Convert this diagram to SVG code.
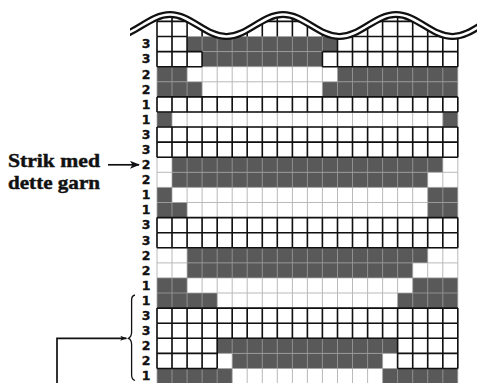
<svg xmlns="http://www.w3.org/2000/svg" xmlns:xlink="http://www.w3.org/1999/xlink" width="477" height="383" viewBox="0 0 477 383">
<style>
.dk{fill:#595959}
.gl{fill:none;stroke:#a3a3a3;stroke-width:1}
.bk{fill:none;stroke:#111;stroke-width:1.6}
.lab{font-family:"DejaVu Sans",sans-serif;font-weight:bold;font-size:12.5px;fill:#111;stroke:#111;stroke-width:0.35;text-anchor:middle}
.note{font-family:"Liberation Serif",serif;font-weight:bold;font-size:19px;fill:#111;stroke:#111;stroke-width:0.45}
.con{fill:none;stroke:#111;stroke-width:1.7}
</style>
<defs>
<path id="vrow" d="M157 0V15.1M172 0V15.1M187.1 0V15.1M202.1 0V15.1M217.2 0V15.1M232.2 0V15.1M247.2 0V15.1M262.3 0V15.1M277.3 0V15.1M292.4 0V15.1M307.4 0V15.1M322.4 0V15.1M337.5 0V15.1M352.5 0V15.1M367.6 0V15.1M382.6 0V15.1M397.6 0V15.1M412.7 0V15.1M427.7 0V15.1M442.8 0V15.1M457.8 0V15.1"/>
<path id="wavep" d="M113.5 36.5C134.1 36.5 149.4 14.5 170 14.5S205.9 36.5 226.5 36.5S262.4 14.5 283 14.5S318.9 36.5 339.5 36.5S375.4 14.5 396 14.5S431.9 36.5 452.5 36.5S488.4 14.5 509 14.5"/>
<clipPath id="wclip"><rect x="130" y="0" width="347" height="60"/></clipPath>
<marker id="ah" viewBox="0 0 10 8" refX="9" refY="4" markerWidth="10" markerHeight="8" markerUnits="userSpaceOnUse" orient="auto"><path d="M0 0L10 4L0 8L2.5 4Z" fill="#111"/></marker>
<marker id="ah2" viewBox="0 0 8 6" refX="7.5" refY="3" markerWidth="7" markerHeight="5" markerUnits="userSpaceOnUse" orient="auto"><path d="M0 0L8 3L0 6L2 3Z" fill="#111"/></marker>
</defs>
<rect width="477" height="383" fill="#fff"/>
<g id="chart">
<g id="dark-cells">
<rect class="dk" x="187.1" y="36.5" width="150.4" height="15.1"/>
<rect class="dk" x="202.1" y="51.6" width="120.3" height="15.1"/>
<rect class="dk" x="157" y="66.7" width="30.1" height="15.1"/>
<rect class="dk" x="337.5" y="66.7" width="120.3" height="15.1"/>
<rect class="dk" x="157" y="81.8" width="45.1" height="15.1"/>
<rect class="dk" x="322.4" y="81.8" width="135.4" height="15.1"/>
<rect class="dk" x="157" y="112" width="15" height="15"/>
<rect class="dk" x="442.8" y="112" width="15" height="15"/>
<rect class="dk" x="172" y="157.2" width="270.8" height="15.1"/>
<rect class="dk" x="172" y="172.3" width="255.7" height="15.1"/>
<rect class="dk" x="157" y="187.4" width="15" height="15.1"/>
<rect class="dk" x="427.7" y="187.4" width="30.1" height="15.1"/>
<rect class="dk" x="157" y="202.5" width="30.1" height="15.1"/>
<rect class="dk" x="427.7" y="202.5" width="30.1" height="15.1"/>
<rect class="dk" x="187.1" y="247.8" width="240.6" height="15.1"/>
<rect class="dk" x="187.1" y="262.9" width="225.6" height="15.1"/>
<rect class="dk" x="157" y="277.9" width="30.1" height="15.1"/>
<rect class="dk" x="412.7" y="277.9" width="45.1" height="15.1"/>
<rect class="dk" x="157" y="293" width="60.2" height="15.1"/>
<rect class="dk" x="397.6" y="293" width="60.2" height="15.1"/>
<rect class="dk" x="217.2" y="338.3" width="180.4" height="15.1"/>
<rect class="dk" x="232.2" y="353.4" width="150.4" height="15.1"/>
<rect class="dk" x="157" y="368.5" width="75.2" height="15.1"/>
<rect class="dk" x="382.6" y="368.5" width="75.2" height="15.1"/>
</g>
<g id="grid-light" class="gl" opacity="0.75">
<path d="M157 36.5V384M172 36.5V384M187.1 36.5V384M202.1 36.5V384M217.2 36.5V384M232.2 36.5V384M247.2 36.5V384M262.3 36.5V384M277.3 36.5V384M292.4 36.5V384M307.4 36.5V384M322.4 36.5V384M337.5 36.5V384M352.5 36.5V384M367.6 36.5V384M382.6 36.5V384M397.6 36.5V384M412.7 36.5V384M427.7 36.5V384M442.8 36.5V384M457.8 36.5V384"/>
<path d="M157 36.5H457.8M157 51.6H457.8M157 66.7H457.8M157 81.8H457.8M157 96.9H457.8M157 112H457.8M157 127H457.8M157 142.1H457.8M157 157.2H457.8M157 172.3H457.8M157 187.4H457.8M157 202.5H457.8M157 217.6H457.8M157 232.7H457.8M157 247.8H457.8M157 262.9H457.8M157 277.9H457.8M157 293H457.8M157 308.1H457.8M157 323.2H457.8M157 338.3H457.8M157 353.4H457.8M157 368.5H457.8"/>
</g>
<g id="grid-bold" class="bk">
<use xlink:href="#vrow" y="6.3"/>
<use xlink:href="#vrow" y="21.4"/>
<use xlink:href="#vrow" y="96.9"/>
<use xlink:href="#vrow" y="127"/>
<use xlink:href="#vrow" y="142.1"/>
<use xlink:href="#vrow" y="217.6"/>
<use xlink:href="#vrow" y="232.7"/>
<use xlink:href="#vrow" y="308.1"/>
<use xlink:href="#vrow" y="323.2"/>
<path d="M157 36.5V66.7M172 36.5V66.7M187.1 36.5V66.7M202.1 51.6V66.7M322.4 51.6V66.7M337.5 36.5V66.7M352.5 36.5V66.7M367.6 36.5V66.7M382.6 36.5V66.7M397.6 36.5V66.7M412.7 36.5V66.7M427.7 36.5V66.7M442.8 36.5V66.7M457.8 36.5V66.7"/>
<path d="M157 338.3V368.5M172 338.3V368.5M187.1 338.3V368.5M202.1 338.3V368.5M217.2 338.3V368.5M397.6 338.3V368.5M412.7 338.3V368.5M427.7 338.3V368.5M442.8 338.3V368.5M457.8 338.3V368.5"/>
<path d="M157 21.4H457.8M157 36.5H187.1M337.5 36.5H457.8M157 51.6H202.1M322.4 51.6H457.8M157 66.7H202.1M322.4 66.7H457.8M157 96.9H457.8M157 112H457.8M157 127H457.8M157 142.1H457.8M157 157.2H457.8M157 217.6H457.8M157 232.7H457.8M157 247.8H457.8M157 308.1H457.8M157 323.2H457.8M157 338.3H457.8M157 353.4H217.2M397.6 353.4H457.8M157 368.5H217.2M397.6 368.5H457.8"/>
</g>
</g>
<g id="wave" clip-path="url(#wclip)">
<path d="M113.5 36.5C134.1 36.5 149.4 14.5 170 14.5S205.9 36.5 226.5 36.5S262.4 14.5 283 14.5S318.9 36.5 339.5 36.5S375.4 14.5 396 14.5S431.9 36.5 452.5 36.5S488.4 14.5 509 14.5V0H113.5Z" fill="#fff"/>
<use xlink:href="#wavep" fill="none" stroke="#111" stroke-width="7.2"/>
<use xlink:href="#wavep" fill="none" stroke="#fff" stroke-width="2.6"/>
</g>
<g id="row-labels" class="lab">
<text x="146" y="48.3">3</text>
<text x="146" y="63.4">3</text>
<text x="146" y="78.5">2</text>
<text x="146" y="93.6">2</text>
<text x="146" y="108.7">1</text>
<text x="146" y="123.8">1</text>
<text x="146" y="138.9">3</text>
<text x="146" y="154">3</text>
<text x="146" y="169.1">2</text>
<text x="146" y="184.2">2</text>
<text x="146" y="199.3">1</text>
<text x="146" y="214.3">1</text>
<text x="146" y="229.4">3</text>
<text x="146" y="244.5">3</text>
<text x="146" y="259.6">2</text>
<text x="146" y="274.7">2</text>
<text x="146" y="289.8">1</text>
<text x="146" y="304.9">1</text>
<text x="146" y="320">3</text>
<text x="146" y="335.1">3</text>
<text x="146" y="350.2">2</text>
<text x="146" y="365.2">2</text>
<text x="146" y="380.3">1</text>
</g>
<g id="note" class="note">
<text x="8" y="167" textLength="92" lengthAdjust="spacingAndGlyphs">Strik med</text>
<text x="8" y="189" textLength="92" lengthAdjust="spacingAndGlyphs">dette garn</text>
</g>
<g id="brace">
<path d="M135 295C132.5 295.5 131.6 297 131.6 300V332C131.6 335.5 130.5 337.3 128.5 338.3C130.5 339.3 131.6 341 131.6 344.5V375C131.6 378 132.5 379.6 135 380.5" fill="none" stroke="#111" stroke-width="1.3"/>
</g>
<g id="connectors">
<path class="con" d="M108 164.8H139" marker-end="url(#ah)"/>
<path class="con" d="M57 384V338.3H126.5" marker-end="url(#ah2)"/>
</g>
</svg>
